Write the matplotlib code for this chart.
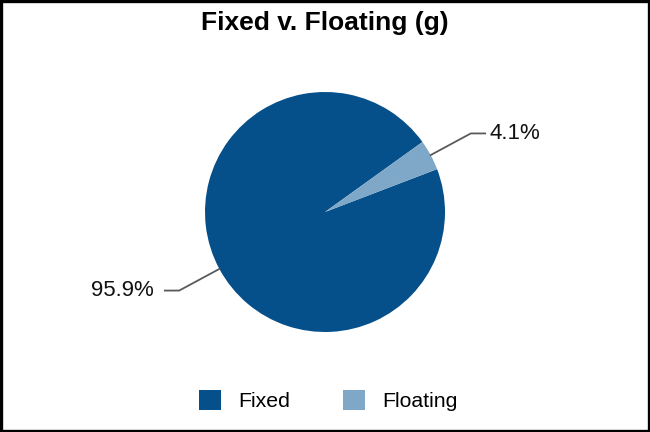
import numpy as np
import matplotlib
matplotlib.use("Agg")
import matplotlib.pyplot as plt
from matplotlib.patches import Rectangle, Patch

plt.rcParams['font.family'] = ['Liberation Sans', 'DejaVu Sans']

# data
labels = ["Fixed", "Floating"]
shares = [95.9, 4.1]
colors = ["#05508a", "#7fa8c8"]

fig = plt.figure(figsize=(6.5, 4.32), dpi=100)
ax = fig.add_axes([205 / 650, 100 / 432, 240 / 650, 240 / 432])

wedges, _ = ax.pie(shares, colors=colors, startangle=35.7, counterclock=True,
                   radius=1, wedgeprops=dict(linewidth=0))
ax.set_xlim(-1, 1)
ax.set_ylim(-1, 1)
ax.set_aspect("equal")
ax.axis("off")

# labels with elbow leader lines
for w, v in zip(wedges, shares):
    mid = np.deg2rad((w.theta1 + w.theta2) / 2)
    x0, y0 = np.cos(mid), np.sin(mid)
    xe, ye = 1.38 * np.cos(mid), 1.38 * np.sin(mid)
    side = 1 if x0 > 0 else -1
    xh = xe + side * 0.12
    ax.plot([x0, xe, xh], [y0, ye, ye], color="#5a5a5a", lw=1.3,
            clip_on=False, solid_joinstyle="miter")
    pad = 0.04 if side > 0 else 0.09
    ax.text(xh + side * pad, ye, "%.1f%%" % v, fontsize=16,
            ha="left" if side > 0 else "right", va="center", color="#111111")

fig.suptitle("Fixed v. Floating (g)", fontsize=19, fontweight="bold",
             y=0.975)

handles = [Patch(facecolor=c, edgecolor="none") for c in colors]
fig.legend(handles, labels, loc="center", bbox_to_anchor=(0.505, 0.072),
           ncol=2, frameon=False, fontsize=15.3, handlelength=1.03,
           handleheight=1.03, handletextpad=0.8, columnspacing=2.5)

# figure border
fig.patches.append(Rectangle((0.002, 0.003), 0.996, 0.994, transform=fig.transFigure,
                             fill=False, edgecolor="black", linewidth=2.4))

fig.savefig("out.png", dpi=100)
